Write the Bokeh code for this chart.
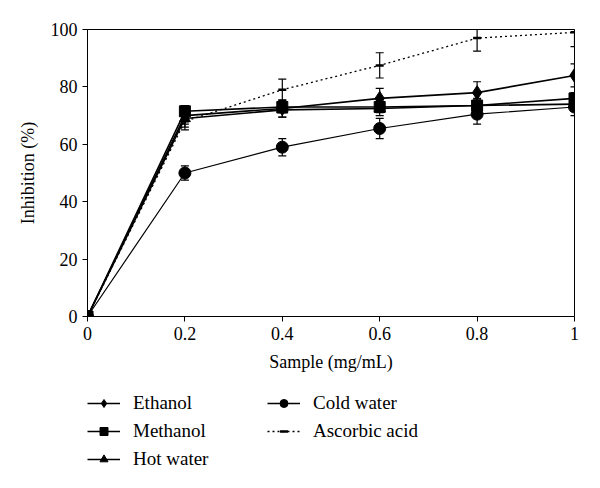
from bokeh.plotting import figure
from bokeh.layouts import column
from bokeh.models import ColumnDataSource, Whisker, TeeHead, Legend, LegendItem, Range1d, FixedTicker
from bokeh.embed import file_html
from bokeh.resources import INLINE

x = [0, 0.2, 0.4, 0.6, 0.8, 1.0]
ethanol = [0, 70, 72.5, 76, 78, 84]
ethanol_err = [0, 3, 3, 3.5, 3.8, 4]
methanol = [0, 71.5, 73, 73, 73.5, 76]
methanol_err = [0, 2, 2, 2, 2, 2]
hot_water = [0, 69, 72, 72.5, 73.5, 74]
hot_water_err = [0, 3, 2.5, 2.5, 2.5, 2.5]
cold_water = [0, 50, 59, 65.5, 70.5, 73]
cold_water_err = [0, 2.5, 3, 3.5, 3.5, 3]
ascorbic = [0, 68, 79, 87.5, 97, 99]
ascorbic_err = [0, 3, 3.7, 4.4, 4.5, 5]

x_ticks = [0, 0.2, 0.4, 0.6, 0.8, 1.0]
x_tick_labels = {0: "0", 0.2: "0.2", 0.4: "0.4", 0.6: "0.6", 0.8: "0.8", 1.0: "1"}
y_ticks = [0, 20, 40, 60, 80, 100]

FONT = "Liberation Serif"
NAN = float("nan")

p = figure(width=584, height=378, output_backend="svg", toolbar_location=None,
           x_range=Range1d(0, 1), y_range=Range1d(0, 100),
           min_border_left=87, min_border_right=10, min_border_top=29, min_border_bottom=62)
p.grid.visible = False
p.outline_line_color = "black"
p.outline_line_width = 1

for ax in (p.xaxis[0], p.yaxis[0]):
    ax.axis_line_color = "black"
    ax.major_tick_line_color = "black"
    ax.major_tick_out = 5
    ax.major_tick_in = 0
    ax.minor_tick_line_color = None
    ax.major_label_text_font = FONT
    ax.major_label_text_font_size = "18px"
    ax.major_label_text_color = "black"
    ax.axis_label_text_font = FONT
    ax.axis_label_text_font_size = "18px"
    ax.axis_label_text_font_style = "normal"
    ax.axis_label_text_color = "black"

p.xaxis.ticker = FixedTicker(ticks=x_ticks)
p.xaxis.major_label_overrides = x_tick_labels
p.yaxis.ticker = FixedTicker(ticks=y_ticks)
p.xaxis.axis_label = "Sample (mg/mL)"
p.yaxis.axis_label = "Inhibition (%)"
p.xaxis.axis_label_standoff = 9
p.yaxis.axis_label_standoff = 10

series = [
    ("Ethanol", ethanol, ethanol_err, "diamond", 14, "solid", 1.6),
    ("Methanol", methanol, methanol_err, "square", 11, "solid", 1.6),
    ("Hot water", hot_water, hot_water_err, "triangle", 11, "solid", 1.6),
    ("Cold water", cold_water, cold_water_err, "circle", 12, "solid", 1.2),
    ("Ascorbic acid", ascorbic, ascorbic_err, "dash", 8, "2 3", 1.3),
]

# legend-only figure below the plot (its frame is aligned with the main plot's frame)
p2 = figure(width=584, height=100, output_backend="svg", toolbar_location=None,
            x_range=Range1d(0, 1), y_range=Range1d(0, 1),
            x_axis_location=None, y_axis_location=None,
            min_border_left=0, min_border_right=0, min_border_top=0, min_border_bottom=0)
p2.grid.visible = False
p2.outline_line_color = None

items = []
for name, ys, errs, marker, size, dash, lw in series:
    src = ColumnDataSource(dict(x=x, y=ys,
                                upper=[a + b for a, b in zip(ys, errs)],
                                lower=[a - b for a, b in zip(ys, errs)]))
    w = Whisker(base="x", upper="upper", lower="lower", source=src,
                line_color="black", line_width=1.2,
                upper_head=TeeHead(size=8, line_color="black", line_width=1.2),
                lower_head=TeeHead(size=8, line_color="black", line_width=1.2))
    p.add_layout(w)
    p.line("x", "y", source=src, line_color="black", line_width=lw, line_dash=dash)
    if marker == "dash":
        p.scatter("x", "y", source=src, marker="dash", size=size,
                  line_color="black", line_width=2.5)
    else:
        p.scatter("x", "y", source=src, marker=marker, size=size,
                  fill_color="black", line_color="black")
    # stand-in renderers (no visible data) for the legend figure
    dummy = ColumnDataSource(dict(x=[NAN], y=[NAN]))
    ln2 = p2.line("x", "y", source=dummy, line_color="black", line_width=1.6, line_dash=dash)
    if marker == "dash":
        mk2 = p2.scatter("x", "y", source=dummy, marker="dash", size=7,
                         line_color="black", line_width=2.5)
    else:
        mk2 = p2.scatter("x", "y", source=dummy, marker=marker, size=size * 0.75,
                         fill_color="black", line_color="black")
    items.append(LegendItem(label=name, renderers=[ln2, mk2]))

def make_legend(its, loc):
    lg = Legend(items=its, location=loc, orientation="vertical",
                glyph_width=33, glyph_height=20, label_height=20,
                label_standoff=13, spacing=6, padding=0, margin=0,
                border_line_color=None, background_fill_alpha=0,
                label_text_font=FONT, label_text_font_size="19px",
                label_text_color="black")
    p2.add_layout(lg, "center")

make_legend(items[:3], (0, 8))
make_legend(items[3:], (180, 36))

layout = column(p, p2, spacing=0)
open("out.html", "w").write(file_html(layout, INLINE))
